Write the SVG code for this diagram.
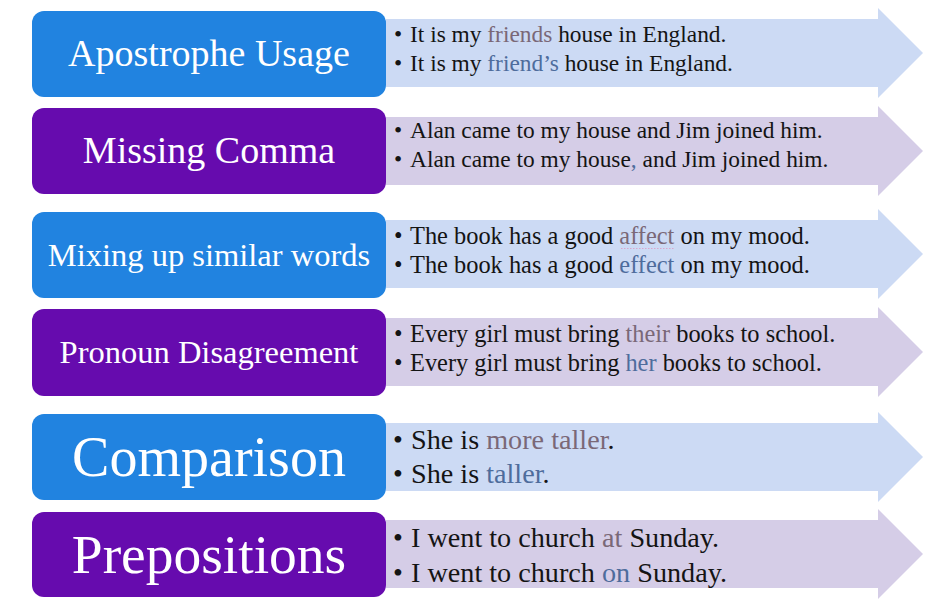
<svg xmlns="http://www.w3.org/2000/svg" width="932" height="611" viewBox="0 0 932 611">
<style>
.box-b{fill:#2183E0}
.box-p{fill:#660BAE}
.arr-b{fill:#CCDAF4}
.arr-p{fill:#D5CDE7}
.lbl{font-family:"Liberation Serif","Times New Roman",serif;fill:#FFFFFF;text-anchor:middle}
.txt{font-family:"Liberation Serif","Times New Roman",serif;fill:#141414;font-size:23.4px}
.mid{font-size:24.4px}
.big{font-size:28.2px}
.bad{fill:#7A6877}
.good{fill:#4E6C9C}
</style>
<defs>
<path id="arrow" d="M386,-34 H878 V-45 L923,0 L878,45 V34 H386 Z"/>
</defs>
<rect width="932" height="611" fill="#FFFFFF"/>
<g id="connectors"></g>

<g id="row-apostrophe">
<use href="#arrow" class="arr-b" transform="translate(0,53)"/>
<rect class="box-b" x="32" y="11" width="354" height="86" rx="12"/>
<text class="lbl" x="209" y="66" font-size="38">Apostrophe Usage</text>
<text class="txt" x="394" y="42">•</text>
<text class="txt" x="410" y="42">It is my <tspan class="bad">friends</tspan> house in England.</text>
<text class="txt" x="394" y="71">•</text>
<text class="txt" x="410" y="71">It is my <tspan class="good">friend’s</tspan> house in England.</text>
</g>

<g id="row-comma">
<use href="#arrow" class="arr-p" transform="translate(0,151)"/>
<rect class="box-p" x="32" y="108" width="354" height="86" rx="12"/>
<text class="lbl" x="209" y="163" font-size="38">Missing Comma</text>
<text class="txt" x="394" y="138">•</text>
<text class="txt" x="410" y="138">Alan came to my house and Jim joined him.</text>
<text class="txt" x="394" y="167">•</text>
<text class="txt" x="410" y="167">Alan came to my house<tspan class="good">,</tspan> and Jim joined him.</text>
</g>

<g id="row-similar">
<use href="#arrow" class="arr-b" transform="translate(0,254)"/>
<rect class="box-b" x="32" y="212" width="354" height="86" rx="12"/>
<text class="lbl" x="209" y="266" font-size="32.5">Mixing up similar words</text>
<text class="txt mid" x="394" y="244">•</text>
<text class="txt mid" x="410" y="244">The book has a good <tspan class="bad">affect</tspan> on my mood.</text>
<line x1="621" y1="248.5" x2="675" y2="248.5" stroke="#D9A6CC" stroke-width="1" stroke-dasharray="1.5,1.5"/>
<text class="txt mid" x="394" y="273">•</text>
<text class="txt mid" x="410" y="273">The book has a good <tspan class="good">effect</tspan> on my mood.</text>
</g>

<g id="row-pronoun">
<use href="#arrow" class="arr-p" transform="translate(0,352)"/>
<rect class="box-p" x="32" y="309" width="354" height="87" rx="12"/>
<text class="lbl" x="209" y="363" font-size="32.5">Pronoun Disagreement</text>
<text class="txt mid" x="394" y="342">•</text>
<text class="txt mid" x="410" y="342">Every girl must bring <tspan class="bad">their</tspan> books to school.</text>
<text class="txt mid" x="394" y="371">•</text>
<text class="txt mid" x="410" y="371">Every girl must bring <tspan class="good">her</tspan> books to school.</text>
</g>

<g id="row-comparison">
<use href="#arrow" class="arr-b" transform="translate(0,457)"/>
<rect class="box-b" x="32" y="414" width="354" height="86" rx="12"/>
<text class="lbl" x="209" y="476" font-size="56">Comparison</text>
<text class="txt big" x="393" y="449">•</text>
<text class="txt big" x="411" y="449">She is <tspan class="bad">more taller</tspan>.</text>
<text class="txt big" x="393" y="483">•</text>
<text class="txt big" x="411" y="483">She is <tspan class="good">taller</tspan>.</text>
</g>

<g id="row-prepositions">
<use href="#arrow" class="arr-p" transform="translate(0,554)"/>
<rect class="box-p" x="32" y="512" width="354" height="85" rx="12"/>
<text class="lbl" x="209" y="573" font-size="55.5">Prepositions</text>
<text class="txt big" x="393" y="547">•</text>
<text class="txt big" x="411" y="547">I went to church <tspan class="bad">at</tspan> Sunday.</text>
<text class="txt big" x="393" y="582">•</text>
<text class="txt big" x="411" y="582">I went to church <tspan class="good">on</tspan> Sunday.</text>
</g>
</svg>
